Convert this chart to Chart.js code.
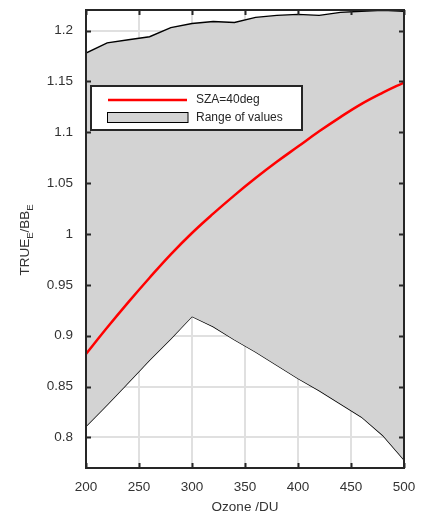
<!DOCTYPE html>
<html>
<head>
<meta charset="utf-8">
<script src="https://cdn.jsdelivr.net/npm/chart.js@4"></script>
<style>
  html, body { margin: 0; padding: 0; background: #fff; }
  #wrap { width: 427px; height: 517px; }
</style>
</head>
<body>
<div id="wrap"><canvas id="grafico"></canvas></div>
<script>
// valores
const ozone = [200, 220, 240, 260, 280, 300, 320, 340, 360, 380, 400, 420, 440, 460, 480, 500];
const sza40 = [0.882, 0.908, 0.933, 0.957, 0.980, 1.001, 1.020, 1.038, 1.055, 1.071, 1.086, 1.101, 1.115, 1.128, 1.139, 1.149];
const rangeMax = [1.178, 1.188, 1.191, 1.194, 1.203, 1.207, 1.209, 1.208, 1.213, 1.215, 1.216, 1.215, 1.218, 1.219, 1.220, 1.219];
const rangeMin = [0.811, 0.832, 0.854, 0.876, 0.897, 0.919, 0.909, 0.896, 0.884, 0.871, 0.858, 0.846, 0.833, 0.820, 0.802, 0.778];
const xTicks = [200, 250, 300, 350, 400, 450, 500];
const yTicks = [0.8, 0.85, 0.9, 0.95, 1, 1.05, 1.1, 1.15, 1.2];

const fonte = '"Liberation Sans", Arial, Helvetica, sans-serif';
const cinza = 'rgb(211,211,211)';

function pontos(valores) {
  return ozone.map((x, i) => ({x: x, y: valores[i]}));
}

// caixa, marcas internas, titulos e legenda
const moldura = {
  id: 'moldura',
  afterDatasetsDraw(chart) {
    const ctx = chart.ctx;
    const a = chart.chartArea;
    const sx = chart.scales.x, sy = chart.scales.y;
    ctx.save();
    ctx.strokeStyle = '#262626';
    ctx.lineWidth = 2;
    ctx.beginPath();
    xTicks.forEach(v => {
      const px = Math.round(sx.getPixelForValue(v)) + 0.5;
      ctx.moveTo(px, a.bottom); ctx.lineTo(px, a.bottom - 5);
      ctx.moveTo(px, a.top); ctx.lineTo(px, a.top + 5);
    });
    yTicks.forEach(v => {
      const py = Math.round(sy.getPixelForValue(v)) + 0.5;
      ctx.moveTo(a.left, py); ctx.lineTo(a.left + 5, py);
      ctx.moveTo(a.right, py); ctx.lineTo(a.right - 5, py);
    });
    ctx.stroke();
    ctx.strokeRect(a.left, a.top, a.right - a.left, a.bottom - a.top);

    // legenda
    ctx.fillStyle = '#fff';
    ctx.fillRect(91, 86, 211, 44);
    ctx.strokeRect(91, 86, 211, 44);
    ctx.strokeStyle = 'red';
    ctx.lineWidth = 2.5;
    ctx.beginPath();
    ctx.moveTo(108, 100); ctx.lineTo(187, 100);
    ctx.stroke();
    ctx.fillStyle = cinza;
    ctx.fillRect(107.5, 112.5, 80.5, 10);
    ctx.strokeStyle = '#000';
    ctx.lineWidth = 1;
    ctx.strokeRect(107.5, 112.5, 80.5, 10);
    ctx.fillStyle = '#262626';
    ctx.font = '12px ' + fonte;
    ctx.textBaseline = 'middle';
    ctx.textAlign = 'left';
    ctx.fillText(chart.data.datasets[0].label, 196, 100);
    ctx.fillText(chart.data.datasets[1].label, 196, 118);

    // titulo x
    ctx.font = '13.5px ' + fonte;
    ctx.textAlign = 'center';
    ctx.fillStyle = '#333';
    ctx.fillText('Ozone /DU', (a.left + a.right) / 2, 507);

    // titulo y com subscritos
    ctx.translate(25, 240);
    ctx.rotate(-Math.PI / 2);
    const partes = [['TRUE', 0], ['E', 1], ['/BB', 0], ['E', 1]];
    let total = 0;
    partes.forEach(p => {
      ctx.font = (p[1] ? '9.5px ' : '13.5px ') + fonte;
      total += ctx.measureText(p[0]).width;
    });
    let x = -total / 2;
    ctx.textAlign = 'left';
    partes.forEach(p => {
      ctx.font = (p[1] ? '9.5px ' : '13.5px ') + fonte;
      ctx.fillText(p[0], x, p[1] ? 5 : 0);
      x += ctx.measureText(p[0]).width;
    });
    ctx.restore();
  }
};

const graficoOzonio = new Chart(document.getElementById('grafico'), {
  type: 'line',
  data: {
    datasets: [{
      label: 'SZA=40deg',
      data: pontos(sza40),
      borderColor: 'red',
      borderWidth: 2.5,
      pointRadius: 0,
      fill: false,
      tension: 0.4,
      order: 0
    }, {
      label: 'Range of values',
      data: pontos(rangeMax),
      borderColor: '#000',
      borderWidth: 1.4,
      pointRadius: 0,
      backgroundColor: cinza,
      fill: 2,
      tension: 0,
      order: 1
    }, {
      label: 'min',
      data: pontos(rangeMin),
      borderColor: '#000',
      borderWidth: 1.4,
      pointRadius: 0,
      fill: false,
      tension: 0,
      order: 2
    }]
  },
  options: {
    responsive: true,
    maintainAspectRatio: false,
    animation: false,
    events: [],
    layout: { padding: { top: 0, right: 23, left: 0, bottom: 0 } },
    plugins: { legend: { display: false }, tooltip: { enabled: false } },
    scales: {
      x: {
        type: 'linear',
        min: 200,
        max: 500,
        afterFit: s => { s.height = 49; },
        afterBuildTicks: s => { s.ticks = xTicks.map(v => ({value: v})); },
        grid: { color: '#e0e0e0', lineWidth: 2, drawTicks: false },
        border: { display: false },
        ticks: { padding: 11, color: '#333', font: { family: fonte, size: 13.5 } }
      },
      y: {
        min: 0.7699,
        max: 1.2203,
        afterFit: s => { s.width = 86; s.paddingTop = 10; s.paddingBottom = 0; },
        afterBuildTicks: s => { s.ticks = yTicks.map(v => ({value: v})); },
        grid: { color: '#e0e0e0', lineWidth: 2, drawTicks: false },
        border: { display: false },
        ticks: { padding: 13, color: '#333', font: { family: fonte, size: 13.5 },
          callback: v => String(Math.round(v * 100) / 100) }
      }
    }
  },
  plugins: [moldura]
});
</script>
</body>
</html>
